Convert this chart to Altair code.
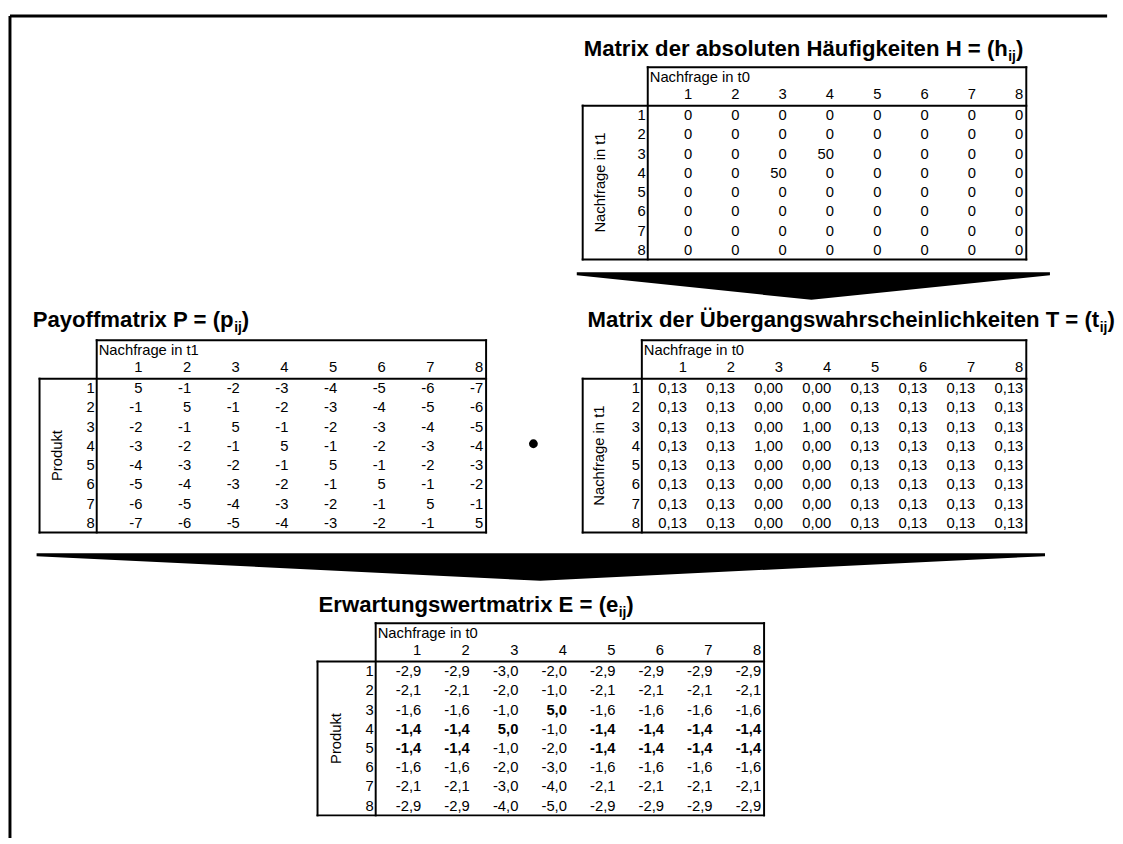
import altair as alt
import pandas as pd

FONT = "Liberation Sans"

# ---------------- data ----------------
idx = [1, 2, 3, 4, 5, 6, 7, 8]

H_values = [
    [0, 0, 0, 0, 0, 0, 0, 0],
    [0, 0, 0, 0, 0, 0, 0, 0],
    [0, 0, 0, 50, 0, 0, 0, 0],
    [0, 0, 50, 0, 0, 0, 0, 0],
    [0, 0, 0, 0, 0, 0, 0, 0],
    [0, 0, 0, 0, 0, 0, 0, 0],
    [0, 0, 0, 0, 0, 0, 0, 0],
    [0, 0, 0, 0, 0, 0, 0, 0],
]

P_values = [
    [5, -1, -2, -3, -4, -5, -6, -7],
    [-1, 5, -1, -2, -3, -4, -5, -6],
    [-2, -1, 5, -1, -2, -3, -4, -5],
    [-3, -2, -1, 5, -1, -2, -3, -4],
    [-4, -3, -2, -1, 5, -1, -2, -3],
    [-5, -4, -3, -2, -1, 5, -1, -2],
    [-6, -5, -4, -3, -2, -1, 5, -1],
    [-7, -6, -5, -4, -3, -2, -1, 5],
]

T_values = [
    [0.13, 0.13, 0.00, 0.00, 0.13, 0.13, 0.13, 0.13],
    [0.13, 0.13, 0.00, 0.00, 0.13, 0.13, 0.13, 0.13],
    [0.13, 0.13, 0.00, 1.00, 0.13, 0.13, 0.13, 0.13],
    [0.13, 0.13, 1.00, 0.00, 0.13, 0.13, 0.13, 0.13],
    [0.13, 0.13, 0.00, 0.00, 0.13, 0.13, 0.13, 0.13],
    [0.13, 0.13, 0.00, 0.00, 0.13, 0.13, 0.13, 0.13],
    [0.13, 0.13, 0.00, 0.00, 0.13, 0.13, 0.13, 0.13],
    [0.13, 0.13, 0.00, 0.00, 0.13, 0.13, 0.13, 0.13],
]

E_values = [
    [-2.9, -2.9, -3.0, -2.0, -2.9, -2.9, -2.9, -2.9],
    [-2.1, -2.1, -2.0, -1.0, -2.1, -2.1, -2.1, -2.1],
    [-1.6, -1.6, -1.0, 5.0, -1.6, -1.6, -1.6, -1.6],
    [-1.4, -1.4, 5.0, -1.0, -1.4, -1.4, -1.4, -1.4],
    [-1.4, -1.4, -1.0, -2.0, -1.4, -1.4, -1.4, -1.4],
    [-1.6, -1.6, -2.0, -3.0, -1.6, -1.6, -1.6, -1.6],
    [-2.1, -2.1, -3.0, -4.0, -2.1, -2.1, -2.1, -2.1],
    [-2.9, -2.9, -4.0, -5.0, -2.9, -2.9, -2.9, -2.9],
]

# ---------------- layout ----------------
RH = 19.5          # row height
FS = 15            # cell font size
TFS = 22.5         # title font size
tables = [
    dict(values=H_values, dec=0, col_label="Nachfrage in t0", row_label="Nachfrage in t1",
         title="Matrix der absoluten Häufigkeiten H = (h", tx=592, ty=51,
         left=591, div=657, right=1041, top=62, rotx=609, bold=False),
    dict(values=P_values, dec=0, col_label="Nachfrage in t1", row_label="Produkt",
         title="Payoffmatrix P = (p", tx=33, ty=326,
         left=40, div=98, right=493, top=339, rotx=58, bold=False),
    dict(values=T_values, dec=2, col_label="Nachfrage in t0", row_label="Nachfrage in t1",
         title="Matrix der Übergangswahrscheinlichkeiten T = (t", tx=596, ty=326,
         left=591, div=651, right=1041, top=339, rotx=608, bold=False),
    dict(values=E_values, dec=1, col_label="Nachfrage in t0", row_label="Produkt",
         title="Erwartungswertmatrix E = (e", tx=323, ty=615,
         left=322, div=381, right=775, top=626, rotx=341, bold=True),
]

# Arial Bold advance widths (per 1000 em)
AB = {" ": 278, "(": 333, ")": 333, "=": 584, "A": 722, "E": 667, "H": 722, "M": 833,
      "P": 667, "T": 611, "Ü": 722, "a": 556, "b": 611, "c": 556, "d": 611, "e": 556,
      "f": 333, "g": 611, "h": 611, "i": 278, "j": 278, "k": 556, "l": 278, "m": 889,
      "n": 611, "o": 611, "p": 611, "r": 389, "s": 556, "t": 333, "u": 611, "w": 778,
      "x": 556, "y": 556, "ä": 556}


def tw(s, size):
    return sum(AB.get(c, 556) for c in s) * size / 1000.0


def fmt(v, dec):
    return f"{v:.{dec}f}".replace(".", ",")


cells, cells_bold, heads, rots, titles, subs, closes, segs = [], [], [], [], [], [], [], []
for t in tables:
    cw = (t["right"] - t["div"]) / 8.0
    hdiv = t["top"] + 2 * RH
    bottom = hdiv + 8 * RH
    vals = t["values"]
    colmax = [max(vals[r][c] for r in range(8)) for c in range(8)]
    heads.append(dict(x=t["div"] + 2, y=t["top"] + 0.5 * RH, label=t["col_label"]))
    rots.append(dict(x=t["rotx"], y=(hdiv + bottom) / 2, label=t["row_label"]))
    for c, name in enumerate(idx):
        cells.append(dict(x=t["div"] + cw * (c + 1) - 3, y=t["top"] + 1.4 * RH, label=str(name)))
    for r, name in enumerate(idx):
        cells.append(dict(x=t["div"] - 2, y=hdiv + RH * (r + 0.5), label=str(name)))
        for c in range(8):
            rec = dict(x=t["div"] + cw * (c + 1) - 3, y=hdiv + RH * (r + 0.5),
                       label=fmt(vals[r][c], t["dec"]))
            if t["bold"] and vals[r][c] == colmax[c]:
                cells_bold.append(rec)
            else:
                cells.append(rec)
    titles.append(dict(x=t["tx"], y=t["ty"], label=t["title"]))
    sx = t["tx"] + tw(t["title"], TFS)
    subs.append(dict(x=sx, y=t["ty"] + 5, label="ij"))
    closes.append(dict(x=sx + tw("ij", 14), y=t["ty"], label=")"))
    L, D, R, T0 = t["left"], t["div"], t["right"], t["top"]
    segs += [
        dict(x=D, y=T0, x2=R, y2=T0),
        dict(x=L, y=hdiv, x2=R, y2=hdiv),
        dict(x=L, y=bottom, x2=R, y2=bottom),
        dict(x=L, y=hdiv, x2=L, y2=bottom),
        dict(x=D, y=T0, x2=D, y2=bottom),
        dict(x=R, y=T0, x2=R, y2=bottom),
    ]

frame = [dict(x=10, y=10, x2=1123, y2=10), dict(x=10, y=10, x2=10, y2=844)]

arrows = pd.DataFrame([
    dict(a="top", x=585, y=270, y2=273), dict(a="top", x=823, y=270, y2=298),
    dict(a="top", x=1065, y=270, y2=273),
    dict(a="bottom", x=37, y=555, y2=558), dict(a="bottom", x=548, y=555, y2=583),
    dict(a="bottom", x=1060, y=555, y2=558),
])
bullet = pd.DataFrame([dict(x=541, y=444)])

XS = alt.Scale(domain=[8, 1115], range=[0, 1107], nice=False, zero=False)
YS = alt.Scale(domain=[8, 836], range=[0, 828], nice=False, zero=False)


def enc(ch, extra=None):
    e = dict(x=alt.X("x:Q", scale=XS, axis=None), y=alt.Y("y:Q", scale=YS, axis=None))
    if extra:
        e.update(extra)
    return ch.encode(**e)


def text_layer(rows, **kw):
    base = alt.Chart(pd.DataFrame(rows)).mark_text(font=FONT, color="black", **kw)
    return enc(base, dict(text=alt.Text("label:N")))


layers = [
    enc(alt.Chart(pd.DataFrame(segs)).mark_rule(color="black", strokeWidth=2, strokeCap="square"),
        dict(x2="x2:Q", y2="y2:Q")),
    enc(alt.Chart(pd.DataFrame(frame)).mark_rule(color="black", strokeWidth=3),
        dict(x2="x2:Q", y2="y2:Q")),
    enc(alt.Chart(arrows).mark_area(color="black", orient="vertical", interpolate="linear"),
        dict(y2="y2:Q", detail="a:N")),
    enc(alt.Chart(bullet).mark_circle(color="black", size=80, opacity=1)),
    text_layer(cells, fontSize=FS, align="right", baseline="middle"),
    text_layer(cells_bold, fontSize=FS, align="right", baseline="middle", fontWeight="bold"),
    text_layer(heads, fontSize=FS, align="left", baseline="middle"),
    text_layer(rots, fontSize=FS, align="center", baseline="middle", angle=270),
    text_layer(titles, fontSize=TFS, align="left", baseline="alphabetic", fontWeight="bold"),
    text_layer(subs, fontSize=14, align="left", baseline="alphabetic", fontWeight="bold"),
    text_layer(closes, fontSize=TFS, align="left", baseline="alphabetic", fontWeight="bold"),
]

chart = alt.layer(*layers).properties(width=1107, height=828, padding=0).configure_view(stroke=None)

chart.save("out.html", embed_options={"renderer": "svg", "actions": False})
